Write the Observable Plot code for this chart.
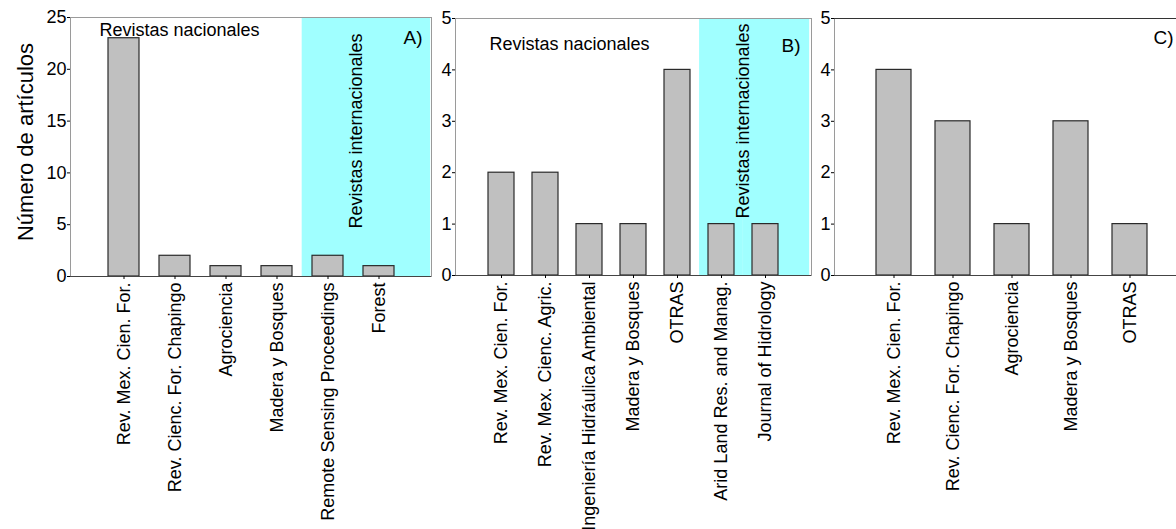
<!DOCTYPE html>
<html><head><meta charset="utf-8">
<script src="https://cdn.jsdelivr.net/npm/d3@7"></script>
<script src="https://cdn.jsdelivr.net/npm/@observablehq/plot@0.6"></script>
<style>
html,body{margin:0;padding:0;background:#fff;overflow:hidden;width:1176px;height:529px}
#wrap{position:relative;width:1176px;height:529px;overflow:hidden;background:#fff}
.panel{position:absolute;top:0}
.panel svg{max-width:none !important;height:529px !important}
</style></head><body><div id="wrap"></div>
<script>
// ---- data ----
const catsA = ["Rev. Mex. Cien. For.", "Rev. Cienc. For. Chapingo", "Agrociencia", "Madera y Bosques", "Remote Sensing Proceedings", "Forest"];
const valsA = [23, 2, 1, 1, 2, 1];
const intlA = ["Remote Sensing Proceedings", "Forest"];

const catsB = ["Rev. Mex. Cien. For.", "Rev. Mex. Cienc. Agric.", "Ingeniería Hidráulica Ambiental", "Madera y Bosques", "OTRAS", "Arid Land Res. and Manag.", "Journal of Hidrology"];
const valsB = [2, 2, 1, 1, 4, 1, 1];
const intlB = ["Arid Land Res. and Manag.", "Journal of Hidrology"];

const catsC = ["Rev. Mex. Cien. For.", "Rev. Cienc. For. Chapingo", "Agrociencia", "Madera y Bosques", "OTRAS"];
const valsC = [4, 3, 1, 3, 1];

const ticksA = [0, 5, 10, 15, 20, 25];
const ticksBC = [0, 1, 2, 3, 4, 5];

const yTitle = "Número de artículos";
const natLabel = "Revistas nacionales";
const intLabel = "Revistas internacionales";

const FONT = "'Liberation Sans', Arial, Helvetica, sans-serif";
const CYAN = "#a0ffff";

function panel(o) {
  const data = o.cats.map((c, i) => ({cat: c, value: o.vals[i]}));
  const n = o.cats.length;
  const plotW = o.width - o.ml - o.mr;
  const s = plotW / (n + 1);
  const gap = 0.2 * s, outer = 0.7 * s;
  const yMax = o.yTicks[o.yTicks.length - 1];
  const marks = [];
  if (o.intl) {
    const idata = o.intl.map(c => ({cat: c, top: yMax}));
    marks.push(Plot.barY(idata, {x: "cat", y: "top", fill: CYAN, insetLeft: -gap, insetRight: -gap}));
    marks.push(Plot.barY(idata.slice(-1), {x: "cat", y: "top", fill: CYAN, insetLeft: -gap, insetRight: -outer}));
  }
  marks.push(Plot.frame({stroke: "#9a9a9a"}));
  if (o.topDark) marks.push(Plot.ruleY([yMax], {stroke: "#333"}));
  marks.push(Plot.barY(data, {x: "cat", y: "value", fill: "#c0c0c0", stroke: "#2a2a2a", strokeWidth: 1.2}));
  marks.push(Plot.ruleY([0], {stroke: "#444"}));
  marks.push(Plot.axisY({ticks: o.yTicks, tickFormat: d => String(d), tickSize: 3, tickPadding: 1, label: null, fontSize: 18}));
  marks.push(Plot.axisX({tickSize: 3, tickPadding: 3, tickRotate: -90, label: null, fontSize: 18}));
  if (o.nat) marks.push(Plot.text([natLabel], {text: d => d, frameAnchor: "top-left", textAnchor: "start", lineAnchor: "top", dx: o.nat[0], dy: o.nat[1], fontSize: 18}));
  if (o.int) marks.push(Plot.text([intLabel], {text: d => d, frameAnchor: "top-right", textAnchor: "end", lineAnchor: "middle", rotate: -90, dx: o.int[0], dy: o.int[1], fontSize: 18}));
  marks.push(Plot.text([o.letter], {text: d => d, frameAnchor: o.letterAnchor, textAnchor: o.letterAnchor === "top-left" ? "start" : "end", lineAnchor: "top", dx: o.lp[0], dy: o.lp[1], fontSize: 19}));
  if (o.ytitle) marks.push(Plot.text([yTitle], {text: d => d, frameAnchor: "left", textAnchor: "middle", lineAnchor: "middle", rotate: -90, dx: -45, dy: -5, fontSize: 22}));

  const chart = Plot.plot({
    width: o.width, height: 529,
    marginLeft: o.ml, marginRight: o.mr, marginTop: o.mt, marginBottom: 529 - o.bottom,
    x: {type: "band", domain: o.cats, paddingInner: 0.4, paddingOuter: 0.7},
    y: {domain: [0, yMax]},
    style: {fontFamily: FONT, fontSize: "17px", color: "#000", background: "transparent", overflow: "visible", maxWidth: "none"},
    marks
  });
  const div = document.createElement("div");
  div.className = "panel";
  div.style.left = o.left + "px";
  div.style.width = o.width + "px";
  div.appendChild(chart);
  document.getElementById("wrap").appendChild(div);
}

panel({cats: catsA, vals: valsA, intl: intlA, yTicks: ticksA, left: 0, width: 440, ml: 70, mr: 9, mt: 17, bottom: 276,
  nat: [29, 6], int: [-75, 16], letter: "A)", letterAnchor: "top-right", lp: [-9, 13], ytitle: true});
panel({cats: catsB, vals: valsB, intl: intlB, yTicks: ticksBC, left: 430, width: 400, ml: 25, mr: 19, mt: 18, bottom: 275,
  nat: [34, 19], int: [-68, 5], letter: "B)", letterAnchor: "top-right", lp: [-11, 20]});
panel({cats: catsC, vals: valsC, intl: null, yTicks: ticksBC, left: 810, width: 400, ml: 24, mr: 20, mt: 18, bottom: 275,
  letter: "C)", letterAnchor: "top-left", lp: [319, 12], topDark: true});
</script>
</body></html>
